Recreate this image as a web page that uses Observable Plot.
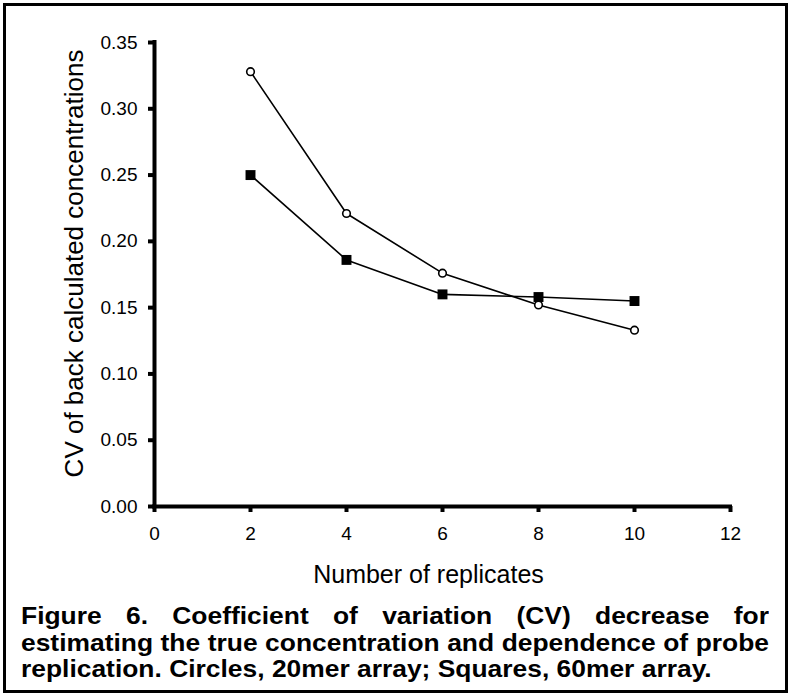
<!DOCTYPE html>
<html>
<head>
<meta charset="utf-8">
<script src="https://cdn.jsdelivr.net/npm/d3@7"></script>
<script src="https://cdn.jsdelivr.net/npm/@observablehq/plot@0.6"></script>
<style>
html, body { margin: 0; padding: 0; background: #fff; }
#page { position: relative; width: 788px; height: 694px; overflow: hidden; font-family: "Liberation Sans", Arial, sans-serif; background: #fff; }
#frame { position: absolute; left: 3px; top: 3px; width: 785px; height: 690px; border: 3px solid #000; box-sizing: border-box; }
#chart { position: absolute; left: 0; top: 0; }
#caption { position: absolute; left: 21px; top: 603px; width: 680px; transform: scaleX(1.1); transform-origin: 0 0; font-weight: bold; font-size: 24px; line-height: 26.5px; color: #000; }
#caption .j { text-align: justify; text-align-last: justify; }
#caption .l { text-align: left; }
</style>
</head>
<body>
<div id="page">
  <div id="frame"></div>
  <div id="chart"></div>
  <div id="caption"></div>
</div>
<script>
// Data
const replicates = [2, 4, 6, 8, 10];
const cv20mer = [0.328, 0.221, 0.176, 0.152, 0.133]; // circles
const cv60mer = [0.250, 0.186, 0.160, 0.158, 0.155]; // squares
const xTicks = [0, 2, 4, 6, 8, 10, 12];
const yTicks = [0, 0.05, 0.10, 0.15, 0.20, 0.25, 0.30, 0.35];
const xLabel = "Number of replicates";
const yLabel = "CV of back calculated concentrations";
const captionLines = [
  "Figure 6. Coefficient of variation (CV) decrease for",
  "estimating the true concentration and dependence of probe",
  "replication. Circles, 20mer array; Squares, 60mer array."
];

const circles = replicates.map((x, i) => ({x, y: cv20mer[i]}));
const squares = replicates.map((x, i) => ({x, y: cv60mer[i]}));

const chart = Plot.plot({
  width: 788,
  height: 600,
  marginLeft: 154,
  marginRight: 58,
  marginTop: 42,
  marginBottom: 94,
  style: {fontFamily: "'Liberation Sans', Arial, sans-serif", color: "#000", background: "transparent"},
  x: {domain: [0, 12]},
  y: {domain: [0, 0.35]},
  marks: [
    Plot.axisY(yTicks, {tickSize: 6, tickPadding: 11, stroke: "#000", strokeWidth: 4, fontSize: 19, tickFormat: d3.format(".2f"), label: null}),
    Plot.axisX(xTicks, {tickSize: 6, tickPadding: 14, stroke: "#000", strokeWidth: 4, fontSize: 19, tickFormat: d => String(d), label: null}),
    Plot.ruleX([0], {stroke: "#000", strokeWidth: 4, strokeLinecap: "square"}),
    Plot.ruleY([0], {stroke: "#000", strokeWidth: 4, strokeLinecap: "square"}),
    Plot.line(squares, {x: "x", y: "y", stroke: "#000", strokeWidth: 1.6}),
    Plot.line(circles, {x: "x", y: "y", stroke: "#000", strokeWidth: 1.6}),
    Plot.dot(squares, {x: "x", y: "y", symbol: "square", r: 5.6, fill: "#000", stroke: "none"}),
    Plot.dot(circles, {x: "x", y: "y", r: 3.8, fill: "#fff", stroke: "#000", strokeWidth: 1.6}),
    Plot.text([yLabel], {text: d => d, frameAnchor: "left", textAnchor: "middle", lineAnchor: "middle", rotate: -90, dx: -80, dy: -11, fontSize: 26, fill: "#000"}),
    Plot.text([xLabel], {text: d => d, frameAnchor: "bottom", textAnchor: "middle", lineAnchor: "middle", dx: -14, dy: 68, fontSize: 25, fill: "#000"})
  ]
});
document.getElementById("chart").appendChild(chart);

const cap = document.getElementById("caption");
captionLines.forEach((t, i) => {
  const div = document.createElement("div");
  div.className = i < captionLines.length - 1 ? "j" : "l";
  div.textContent = t;
  cap.appendChild(div);
});
</script>
</body>
</html>
